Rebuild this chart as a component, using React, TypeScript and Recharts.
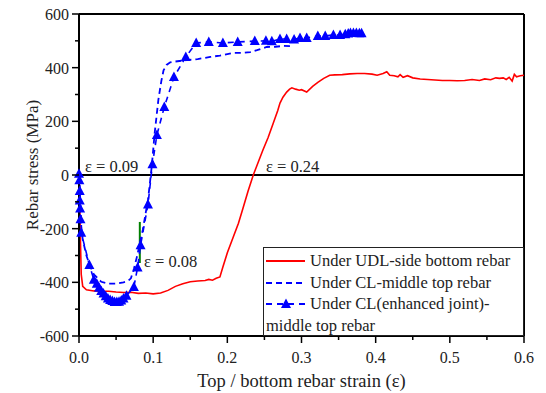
import {
    Legend,
    Line,
    LineChart,
    ReferenceDot,
    ReferenceLine,
    XAxis,
    YAxis,
} from 'recharts';

const FONT = "'Times New Roman', 'Liberation Serif', 'DejaVu Serif', serif";

// [strain, stress (MPa)]
const udlBottom: [number, number][] = [
    [0, 0], [0.001, -100], [0.002, -250], [0.003, -370], [0.005, -415],
    [0.01, -428], [0.02, -432], [0.03, -433], [0.04, -433], [0.05, -436],
    [0.06, -438], [0.07, -437], [0.08, -441], [0.09, -440], [0.1, -443],
    [0.11, -440], [0.12, -430], [0.13, -415], [0.14, -405], [0.15, -398],
    [0.16, -395], [0.17, -393], [0.175, -389], [0.18, -392], [0.185, -385],
    [0.19, -380], [0.194, -343], [0.2, -290], [0.208, -231], [0.215, -180],
    [0.221, -125], [0.228, -60], [0.235, 0], [0.242, 50], [0.248, 93],
    [0.255, 140], [0.262, 194], [0.268, 240], [0.271, 268], [0.275, 290],
    [0.28, 309], [0.284, 320], [0.287, 325], [0.292, 320], [0.297, 316],
    [0.3, 318], [0.307, 309], [0.315, 330], [0.322, 345], [0.33, 360],
    [0.338, 372], [0.345, 373], [0.355, 374], [0.365, 377], [0.375, 378],
    [0.385, 378], [0.395, 376], [0.402, 372], [0.41, 378], [0.415, 385],
    [0.419, 372], [0.425, 370], [0.43, 366], [0.433, 374], [0.437, 364],
    [0.443, 370], [0.45, 362], [0.46, 358], [0.47, 356], [0.48, 354],
    [0.49, 352], [0.5, 352], [0.51, 351], [0.52, 352], [0.53, 356],
    [0.54, 352], [0.547, 358], [0.555, 355], [0.562, 362], [0.567, 360],
    [0.572, 362], [0.576, 356], [0.58, 364], [0.584, 350], [0.587, 375],
    [0.59, 366], [0.595, 370], [0.6, 372],
];

const clMiddleTop: [number, number][] = [
    [0, 0], [0.001, -50], [0.002, -110], [0.003, -190], [0.005, -240],
    [0.01, -300], [0.015, -340], [0.02, -370], [0.03, -398], [0.04, -405],
    [0.05, -405], [0.06, -400], [0.066, -395], [0.07, -385], [0.074, -350],
    [0.078, -306], [0.082, -255], [0.086, -205], [0.09, -140], [0.093, -93],
    [0.096, -20], [0.098, 30], [0.102, 155], [0.107, 280], [0.111, 350],
    [0.114, 390], [0.118, 410], [0.123, 420], [0.13, 423], [0.145, 428],
    [0.16, 432], [0.177, 440], [0.19, 445], [0.208, 455], [0.22, 455],
    [0.231, 458], [0.24, 465], [0.253, 477], [0.265, 478], [0.275, 481],
    [0.285, 480],
];

const clEnhanced: [number, number][] = [
    [0, 5], [0.0005, -20], [0.001, -60], [0.001, -95], [0.0015, -125],
    [0.002, -165], [0.003, -215], [0.014, -335], [0.02, -390], [0.024, -405],
    [0.027, -420], [0.03, -432], [0.033, -442], [0.036, -452], [0.039, -460],
    [0.042, -466], [0.045, -470], [0.048, -473], [0.051, -473], [0.054, -472],
    [0.057, -468], [0.06, -460], [0.064, -450], [0.074, -417], [0.079, -345],
    [0.083, -262], [0.093, -110], [0.099, 40], [0.105, 149], [0.115, 253],
    [0.128, 365], [0.144, 440], [0.158, 492], [0.175, 496], [0.194, 492],
    [0.214, 496], [0.237, 499], [0.252, 500], [0.26, 498], [0.271, 507],
    [0.28, 507], [0.29, 505], [0.298, 511], [0.307, 511], [0.322, 518],
    [0.332, 518], [0.343, 522], [0.352, 522], [0.359, 525], [0.363, 527],
    [0.366, 529], [0.37, 529], [0.374, 529], [0.378, 528], [0.381, 528],
];

const xTicks = [0, 0.05, 0.1, 0.15, 0.2, 0.25, 0.3, 0.35, 0.4, 0.45, 0.5, 0.55, 0.6];
const xLabels = ['0.0', '0.1', '0.2', '0.3', '0.4', '0.5', '0.6'];
const yTicks = [-600, -500, -400, -300, -200, -100, 0, 100, 200, 300, 400, 500, 600];

const legendNames = [
    'Under UDL-side bottom rebar',
    'Under CL-middle top rebar',
    'Under CL(enhanced joint)-',
    'middle top rebar',
];

const toRows = (pts: [number, number][]) => pts.map(([x, y]) => ({ x, y }));

const Triangle = ({ cx, cy }: { cx?: number; cy?: number }) => {
    if (cx == null || cy == null) return null;
    return (
        <polygon
            points={`${cx},${cy - 5.5} ${cx - 5},${cy + 4} ${cx + 5},${cy + 4}`}
            fill="#0000ff"
        />
    );
};

const XTick = ({ x, y, payload }: any) => {
    const v = payload.value;
    const idx = Math.round(v * 20);
    const major = idx % 2 === 0;
    return (
        <g>
            <line x1={x} x2={x} y1={y} y2={y + (major ? 7 : 4)} stroke="#000" strokeWidth={1.5} />
            {major && (
                <text x={x} y={y + 27} textAnchor="middle" fontSize={16} fontFamily={FONT} fill="#222">
                    {xLabels[idx / 2]}
                </text>
            )}
        </g>
    );
};

const YTick = ({ x, y, payload }: any) => {
    const v = payload.value;
    const major = v % 200 === 0;
    return (
        <g>
            <line x1={x} x2={x - (major ? 7 : 4)} y1={y} y2={y} stroke="#000" strokeWidth={1.5} />
            {major && (
                <text x={x - 10} y={y + 6} textAnchor="end" fontSize={16} fontFamily={FONT} fill="#222">
                    {v}
                </text>
            )}
        </g>
    );
};

const LegendBox = () => (
    <div
        style={{
            boxSizing: 'border-box',
            width: 261,
            height: 89,
            border: '1.5px solid #222',
            background: '#fff',
            fontFamily: FONT,
            fontSize: 16.5,
            color: '#222',
            lineHeight: '21.7px',
            paddingTop: 2,
        }}
    >
        <div style={{ display: 'flex', alignItems: 'center' }}>
            <svg width={46} height={12}>
                <line x1={2} x2={41} y1={6} y2={6} stroke="#ff0000" strokeWidth={2} />
            </svg>
            <span>{legendNames[0]}</span>
        </div>
        <div style={{ display: 'flex', alignItems: 'center' }}>
            <svg width={46} height={12}>
                <line x1={2} x2={41} y1={6} y2={6} stroke="#0000ff" strokeWidth={2} strokeDasharray="6 4" />
            </svg>
            <span>{legendNames[1]}</span>
        </div>
        <div style={{ display: 'flex', alignItems: 'center' }}>
            <svg width={46} height={12}>
                <line x1={2} x2={41} y1={6} y2={6} stroke="#0000ff" strokeWidth={2} strokeDasharray="6 5" />
                <Triangle cx={22} cy={6} />
            </svg>
            <span>{legendNames[2]}</span>
        </div>
        <div style={{ paddingLeft: 2 }}>{legendNames[3]}</div>
    </div>
);

const annotationLabel = (value: string) => ({
    value,
    position: 'right' as const,
    offset: 0,
    fontSize: 16.5,
    fontFamily: FONT,
    fill: '#222',
});

export default function App() {
    return (
        <div style={{ position: 'absolute', left: 0, top: 0, background: '#fff', fontFamily: FONT }}>
            <LineChart width={546} height={393} margin={{ top: 14, right: 22, bottom: 0, left: 0 }}>
                <XAxis
                    type="number"
                    dataKey="x"
                    domain={[0, 0.6]}
                    ticks={xTicks}
                    interval={0}
                    height={57}
                    tickSize={0}
                    tickMargin={0}
                    tickLine={false}
                    tick={<XTick />}
                    axisLine={{ stroke: '#000', strokeWidth: 2 }}
                    label={{
                        value: 'Top / bottom rebar strain (ε)',
                        position: 'center',
                        dy: 16,
                        fontSize: 18.5,
                        fontFamily: FONT,
                        fill: '#222',
                    }}
                />
                <YAxis
                    type="number"
                    domain={[-600, 600]}
                    ticks={yTicks}
                    interval={0}
                    width={79}
                    tickSize={0}
                    tickMargin={0}
                    tickLine={false}
                    tick={<YTick />}
                    axisLine={{ stroke: '#000', strokeWidth: 2 }}
                    label={{
                        value: 'Rebar stress (MPa)',
                        angle: -90,
                        position: 'center',
                        dx: -8,
                        dy: -10,
                        fontSize: 17,
                        fontFamily: FONT,
                        fill: '#222',
                    }}
                />
                <ReferenceLine y={600} stroke="#000" strokeWidth={2} />
                <ReferenceLine x={0.6} stroke="#000" strokeWidth={2} />
                <ReferenceLine y={0} stroke="#000" strokeWidth={2} />
                <ReferenceLine
                    segment={[{ x: 0.082, y: -175 }, { x: 0.082, y: -328 }]}
                    stroke="#008000"
                    strokeWidth={2}
                />
                <Line
                    data={toRows(udlBottom)}
                    dataKey="y"
                    stroke="#ff0000"
                    strokeWidth={1.6}
                    dot={false}
                    isAnimationActive={false}
                />
                <Line
                    data={toRows(clMiddleTop)}
                    dataKey="y"
                    stroke="#0000ff"
                    strokeWidth={1.8}
                    strokeDasharray="6 4"
                    dot={false}
                    isAnimationActive={false}
                />
                <Line
                    data={toRows(clEnhanced)}
                    dataKey="y"
                    stroke="#0000ff"
                    strokeWidth={1.6}
                    strokeDasharray="6 5"
                    dot={<Triangle />}
                    isAnimationActive={false}
                />
                <ReferenceDot x={0.0081} y={32} r={0} stroke="none" label={annotationLabel('ε = 0.09')} />
                <ReferenceDot x={0.2521} y={32} r={0} stroke="none" label={annotationLabel('ε = 0.24')} />
                <ReferenceDot x={0.0876} y={-322} r={0} stroke="none" label={annotationLabel('ε = 0.08')} />
                <Legend
                    layout="vertical"
                    align="center"
                    verticalAlign="middle"
                    wrapperStyle={{ left: 263, top: 247, width: 261, height: 89 }}
                    content={() => <LegendBox />}
                />
            </LineChart>
        </div>
    );
}
